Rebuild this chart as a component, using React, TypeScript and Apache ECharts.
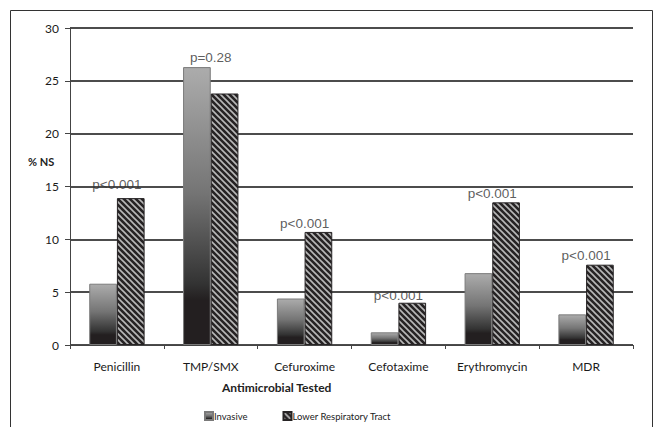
import React, { useEffect, useRef } from "react";
import * as echarts from "echarts";

const categories = ["Penicillin", "TMP/SMX", "Cefuroxime", "Cefotaxime", "Erythromycin", "MDR"];
const invasive = [5.8, 26.3, 4.4, 1.2, 6.8, 2.9];
const lowerRespiratory = [13.9, 23.8, 10.7, 4.0, 13.5, 7.6];
const pLabels = ["p<0.001", "p=0.28", "p<0.001", "p<0.001", "p<0.001", "p<0.001"];
const pLabelY = [15.2, 27.2, 11.5, 4.7, 14.3, 8.5];
const yTicks = [0, 5, 10, 15, 20, 25, 30];

function makeHatch(): HTMLCanvasElement {
  const s = 6;
  const c = document.createElement("canvas");
  c.width = s;
  c.height = s;
  const ctx = c.getContext("2d")!;
  ctx.fillStyle = "#262324";
  ctx.fillRect(0, 0, s, s);
  ctx.strokeStyle = "#b8b8b8";
  ctx.lineWidth = 1.6;
  ctx.beginPath();
  ctx.moveTo(-1, -1);
  ctx.lineTo(s + 1, s + 1);
  ctx.moveTo(s - 1, -1);
  ctx.lineTo(s + 1, 1);
  ctx.moveTo(-1, s - 1);
  ctx.lineTo(1, s + 1);
  ctx.stroke();
  return c;
}

export default function App() {
  const ref = useRef<HTMLDivElement>(null);
  useEffect(() => {
    if (!ref.current) return;
    const chart = echarts.init(ref.current, null, { renderer: "svg" });
    const hatch = makeHatch();
    const invGrad = new echarts.graphic.LinearGradient(0, 0, 0, 1, [
      { offset: 0, color: "#acacac" },
      { offset: 0.45, color: "#757575" },
      { offset: 0.78, color: "#333333" },
      { offset: 0.84, color: "#231f20" },
      { offset: 1, color: "#231f20" },
    ]);
    chart.setOption({
      animation: false,
      backgroundColor: "#ffffff",
      textStyle: { fontFamily: "Lato" },
      grid: { left: 70, right: 25, top: 28, bottom: 82 },
      graphic: [
        {
          type: "rect",
          shape: { x: 10.5, y: 10.5, width: 642, height: 440 },
          style: { fill: "none", stroke: "#333333", lineWidth: 1 },
          silent: true,
        },
        {
          type: "text",
          left: 28,
          top: 156,
          style: { text: "% NS", font: "bold 11px Lato", fill: "#222222" },
        },
        {
          type: "text",
          left: 222,
          top: 381,
          style: { text: "Antimicrobial Tested", font: "bold 12px Lato", fill: "#222222" },
        },
      ],
      legend: {
        data: ["Invasive", "Lower Respiratory Tract"],
        left: 199,
        top: 406,
        itemWidth: 8,
        itemHeight: 8,
        itemGap: 35,
        icon: "rect",
        textStyle: { fontSize: 9.5, color: "#222222", fontFamily: "Lato", padding: [0, 0, 0, -4] },
      },
      xAxis: {
        type: "category",
        data: categories,
        axisLine: { lineStyle: { color: "#444444", width: 1 } },
        axisTick: { show: true, length: 4, lineStyle: { color: "#444444" } },
        axisLabel: { fontSize: 12, color: "#1a1a1a", margin: 15, fontFamily: "Lato" },
      },
      yAxis: {
        type: "value",
        min: 0,
        max: 30,
        interval: 5,
        axisLine: { show: true, lineStyle: { color: "#444444", width: 1 } },
        axisTick: { show: true, length: 5, lineStyle: { color: "#444444" } },
        axisLabel: {
          fontSize: 12,
          color: "#1a1a1a",
          margin: 11,
          fontFamily: "Lato",
          formatter: (v: number) => (yTicks.includes(v) ? String(v) : ""),
        },
        splitLine: { show: true, lineStyle: { color: "#111111", width: 1.5 } },
      },
      series: [
        {
          name: "Invasive",
          type: "bar",
          data: invasive,
          barGap: "0%",
          barCategoryGap: "41%",
          itemStyle: { color: invGrad, borderColor: "#7a7a7a", borderWidth: 1 },
        },
        {
          name: "Lower Respiratory Tract",
          type: "bar",
          data: lowerRespiratory,
          itemStyle: { color: { image: hatch, repeat: "repeat" }, borderColor: "#262324", borderWidth: 1 },
        },
        {
          name: "pvalues",
          type: "scatter",
          symbolSize: 0,
          data: pLabelY.map((y, i) => [i, y]),
          label: {
            show: true,
            position: "inside",
            formatter: (p: any) => pLabels[p.dataIndex],
            fontFamily: "Liberation Sans",
            fontSize: 13.5,
            color: "#333333",
          },
          silent: true,
        },
      ],
    });
    return () => chart.dispose();
  }, []);
  return <div ref={ref} style={{ position: "fixed", left: 0, top: 0, width: 658, height: 427 }} />;
}
